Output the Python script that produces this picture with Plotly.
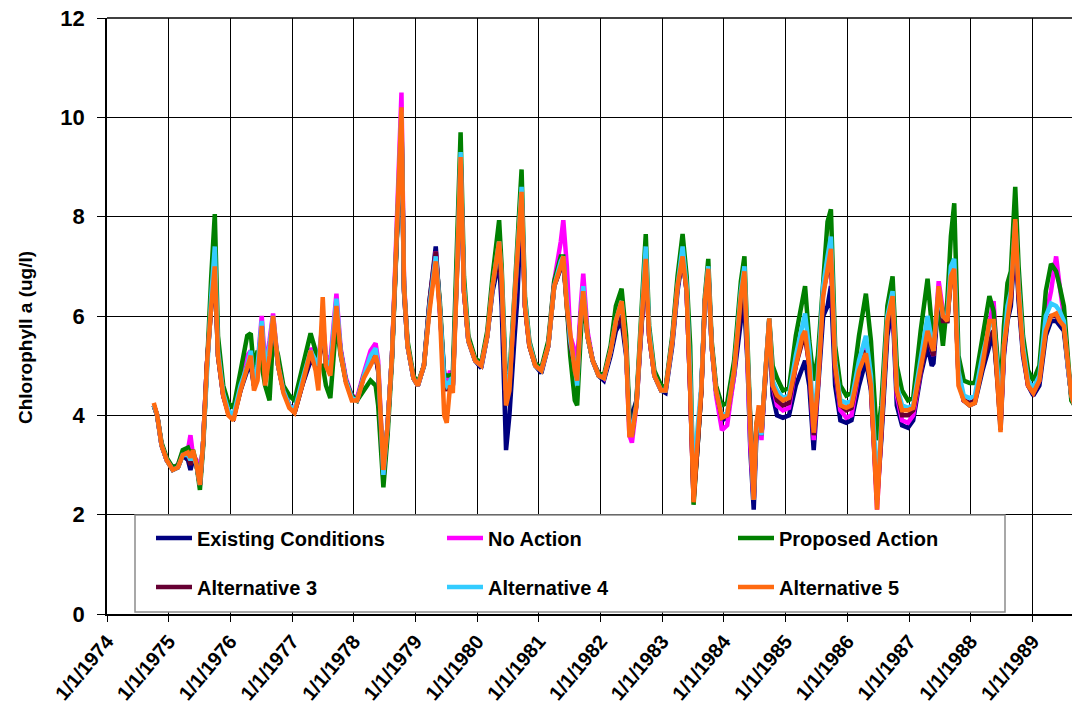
import plotly.graph_objects as go

dates = [
"1974-10-05","1974-10-25","1974-11-20","1974-12-20","1975-01-25","1975-02-25","1975-03-25","1975-04-25","1975-05-10","1975-05-25",
"1975-06-15","1975-07-05","1975-07-25","1975-08-15","1975-09-10","1975-10-01","1975-10-20","1975-11-20","1975-12-20","1976-01-20",
"1976-03-01","1976-04-10","1976-05-01","1976-05-20","1976-06-10","1976-07-05","1976-07-25","1976-08-20","1976-09-10","1976-10-10",
"1976-11-10","1976-12-15","1977-01-15","1977-03-01","1977-04-20","1977-05-20","1977-06-05","1977-07-01","1977-07-20","1977-08-15",
"1977-09-20","1977-10-15","1977-11-15","1977-12-20","1978-01-20","1978-03-01","1978-04-10","1978-05-10","1978-05-25","1978-06-25",
"1978-07-20","1978-08-15","1978-09-10","1978-10-10","1978-10-25","1978-11-15","1978-12-20","1979-01-15","1979-02-20","1979-03-25",
"1979-05-01","1979-05-25","1979-06-20","1979-07-05","1979-07-25","1979-08-10","1979-09-05","1979-09-25","1979-10-15","1979-11-10",
"1979-12-20","1980-01-25","1980-03-01","1980-04-01","1980-05-10","1980-05-25","1980-06-20","1980-07-10","1980-08-10","1980-08-25",
"1980-09-20","1980-10-10","1980-11-05","1980-12-10","1981-01-15","1981-02-25","1981-04-01","1981-05-10","1981-05-25","1981-06-15",
"1981-07-05","1981-08-01","1981-08-15","1981-09-05","1981-09-20","1981-10-15","1981-11-15","1981-12-20","1982-01-20","1982-03-01",
"1982-04-01","1982-05-05","1982-06-01","1982-06-20","1982-07-05","1982-08-01","1982-08-25","1982-09-25","1982-10-15","1982-11-15",
"1982-12-25","1983-01-20","1983-03-01","1983-04-01","1983-05-01","1983-05-25","1983-06-15","1983-07-05","1983-07-25","1983-08-20",
"1983-09-10","1983-09-30","1983-10-20","1983-11-15","1983-12-20","1984-01-20","1984-03-01","1984-04-10","1984-05-01","1984-05-20",
"1984-06-05","1984-06-25","1984-07-10","1984-07-25","1984-08-10","1984-09-01","1984-09-25","1984-10-15","1984-11-10","1984-12-15",
"1985-01-20","1985-03-01","1985-04-10","1985-04-25","1985-05-20","1985-06-15","1985-07-10","1985-08-10","1985-09-05","1985-09-25",
"1985-10-20","1985-11-20","1985-12-25","1986-01-25","1986-03-10","1986-04-20","1986-05-20","1986-06-25","1986-07-20","1986-08-25",
"1986-09-25","1986-10-20","1986-11-20","1986-12-25","1987-01-25","1987-03-10","1987-04-20","1987-05-15","1987-05-25","1987-06-25",
"1987-07-20","1987-08-15","1987-09-05","1987-09-25","1987-10-20","1987-11-20","1987-12-25","1988-01-25","1988-03-10","1988-04-20",
"1988-05-15","1988-06-10","1988-06-25","1988-07-15","1988-08-05","1988-08-25","1988-09-20","1988-10-10","1988-11-05","1988-12-05",
"1989-01-05","1989-02-10","1989-03-20","1989-04-20","1989-05-20","1989-06-10","1989-07-05","1989-07-28","1989-08-18","1989-09-05",
]

existing_conditions = [
4.2,4.0,3.4,3.1,2.9,2.95,3.2,3.1,2.9,3.1,
3.0,2.6,3.5,5.0,6.2,7.0,5.2,4.4,4.05,3.95,
4.5,4.9,5.0,4.6,4.9,5.8,4.8,5.3,5.9,5.0,
4.5,4.2,4.05,4.6,5.1,5.0,5.0,5.7,5.1,5.0,
6.1,5.3,4.7,4.35,4.3,4.8,5.1,5.2,4.9,2.7,
3.8,5.2,7.4,9.8,6.5,5.4,4.75,4.6,5.0,6.3,
7.4,6.2,4.8,4.7,4.8,4.6,7.0,9.1,6.5,5.5,
5.1,4.95,5.6,6.5,7.1,6.2,3.3,4.0,5.6,6.3,
8.3,6.2,5.4,5.0,4.85,5.4,6.6,7.0,7.1,6.3,
5.5,5.0,4.9,6.0,6.5,5.6,5.1,4.8,4.7,5.2,
5.7,5.9,5.2,4.0,4.0,4.3,5.5,7.1,5.6,4.8,
4.5,4.45,5.4,6.5,7.2,6.5,4.5,2.4,3.2,4.5,
6.3,6.9,5.4,4.5,3.9,3.95,4.8,5.9,6.2,5.0,
3.3,2.1,3.5,4.0,3.6,4.8,5.9,4.4,4.0,3.95,
4.0,4.6,5.0,5.1,4.6,3.3,4.5,6.0,6.2,6.6,
4.6,3.9,3.85,3.9,4.6,5.1,4.5,2.3,3.5,5.6,
6.2,4.2,3.8,3.75,3.9,4.8,5.4,5.0,5.05,6.4,
5.9,5.9,6.8,7.0,4.8,4.3,4.2,4.25,4.9,5.4,
5.6,4.6,3.7,5.2,5.9,6.2,7.6,6.3,5.2,4.6,
4.4,4.6,5.6,5.9,5.9,5.8,5.7,5.0,4.4,4.2,
]

no_action = [
4.2,4.0,3.4,3.1,2.95,3.0,3.25,3.3,3.6,3.2,
3.1,2.6,3.5,5.0,6.3,7.1,5.3,4.4,4.05,3.95,
4.6,5.2,5.3,4.7,5.0,6.0,5.0,5.5,6.05,5.0,
4.5,4.2,4.1,4.7,5.35,5.2,5.1,5.9,5.2,5.1,
6.45,5.35,4.75,4.4,4.35,4.85,5.3,5.45,5.1,2.8,
3.8,5.2,7.6,10.5,6.7,5.4,4.75,4.6,5.0,6.2,
7.3,6.2,4.8,4.6,4.9,4.6,7.0,9.2,6.5,5.5,
5.1,5.0,5.6,6.6,7.4,6.6,4.5,4.6,6.3,7.2,
8.5,6.2,5.45,5.05,4.9,5.4,6.7,7.5,7.93,7.0,
5.6,5.3,5.0,6.2,6.85,5.7,5.1,4.85,4.75,5.3,
5.9,6.3,5.3,3.6,3.45,4.2,5.6,7.2,5.6,4.8,
4.5,4.5,5.5,6.6,7.3,6.5,4.5,2.3,3.3,4.5,
6.3,7.0,5.4,4.4,3.7,3.8,4.8,6.4,6.9,5.2,
3.4,2.3,3.7,4.1,3.5,4.8,5.9,4.6,4.2,4.1,
4.15,5.0,5.6,5.6,5.0,3.5,4.6,6.5,7.0,7.2,
4.9,4.1,3.95,4.0,4.9,5.4,4.6,2.1,3.6,5.9,
6.3,4.4,3.9,3.85,4.0,4.9,5.7,5.3,5.2,6.7,
6.1,6.0,7.0,7.1,4.8,4.3,4.25,4.3,5.1,5.8,
6.3,4.7,3.8,5.3,6.1,6.4,7.9,6.5,5.3,4.6,
4.45,4.7,6.0,6.5,7.2,6.6,6.0,5.0,4.4,4.2,
]

proposed_action = [
4.2,4.0,3.45,3.15,2.95,3.0,3.3,3.35,3.2,3.3,
3.0,2.5,3.4,5.1,6.8,8.05,5.6,4.6,4.25,4.15,
4.9,5.6,5.65,4.9,5.3,5.0,4.6,4.3,5.6,5.2,
4.6,4.4,4.3,4.9,5.65,5.3,5.0,5.0,4.6,4.35,
5.9,5.2,4.7,4.4,4.3,4.5,4.7,4.6,4.2,2.55,
3.6,5.1,7.5,9.9,6.6,5.5,4.8,4.65,5.0,6.2,
7.2,6.3,4.8,4.8,4.8,4.85,7.5,9.7,6.8,5.6,
5.15,5.05,5.7,6.8,7.93,7.0,4.6,4.8,6.5,7.4,
8.95,6.4,5.5,5.05,4.95,5.5,6.7,7.2,7.2,6.2,
5.2,4.3,4.2,5.6,6.4,5.6,5.1,4.85,4.8,5.4,
6.2,6.55,5.6,4.0,3.6,4.3,5.7,7.65,5.8,4.9,
4.6,4.55,5.6,6.8,7.65,6.8,5.4,2.2,3.2,4.5,
6.4,7.15,5.5,4.6,4.2,4.25,5.1,6.7,7.2,5.3,
3.9,2.4,3.8,4.1,3.7,4.8,5.95,5.0,4.75,4.5,
4.55,5.6,6.4,6.6,5.5,4.7,5.2,6.8,7.9,8.15,
5.4,4.6,4.4,4.45,5.6,6.45,5.5,3.5,4.2,6.2,
6.8,5.0,4.5,4.3,4.35,5.7,6.75,5.8,5.5,6.2,
5.4,6.3,7.6,8.27,5.2,4.7,4.65,4.65,5.6,6.4,
6.1,5.0,4.4,5.8,6.66,6.9,8.6,7.0,5.6,4.9,
4.7,5.0,6.5,7.05,6.9,6.6,6.2,5.2,4.3,4.2,
]

alternative_3 = [
4.2,4.0,3.4,3.1,2.9,2.95,3.2,3.2,3.0,3.2,
3.0,2.6,3.5,5.0,6.2,7.0,5.2,4.4,4.05,3.95,
4.5,5.0,5.1,4.6,4.9,5.8,4.8,5.3,5.9,5.0,
4.5,4.2,4.05,4.6,5.2,5.0,4.9,5.8,5.0,5.0,
6.1,5.3,4.7,4.35,4.3,4.8,5.1,5.2,4.9,2.8,
3.8,5.2,7.5,9.9,6.5,5.4,4.75,4.6,5.0,6.3,
7.3,6.2,4.6,4.5,4.7,4.6,7.0,9.2,6.5,5.5,
5.1,5.0,5.6,6.6,7.2,6.6,4.5,4.6,6.3,7.2,
8.4,6.2,5.4,5.0,4.9,5.4,6.6,7.0,7.1,6.2,
5.4,5.0,4.7,6.0,6.5,5.6,5.1,4.8,4.75,5.3,
5.8,6.0,5.3,3.8,3.8,4.2,5.6,7.1,5.6,4.8,
4.5,4.5,5.5,6.6,7.2,6.5,4.5,2.3,3.2,4.5,
6.3,6.9,5.4,4.5,3.95,4.0,4.9,6.2,6.6,5.0,
3.6,2.3,3.7,4.1,3.6,4.8,5.9,4.6,4.3,4.2,
4.25,5.0,5.5,5.6,5.0,3.6,4.6,6.5,6.9,7.2,
4.9,4.2,4.1,4.15,4.9,5.3,4.6,2.3,3.6,5.8,
6.3,4.5,4.0,4.0,4.1,4.9,5.6,5.3,5.2,6.5,
5.9,5.9,6.8,7.0,4.8,4.3,4.25,4.3,5.0,5.6,
5.7,4.6,3.8,5.3,6.0,6.3,7.8,6.4,5.3,4.6,
4.45,4.7,5.8,6.0,6.0,5.9,5.8,5.0,4.4,4.2,
]

alternative_4 = [
4.2,4.0,3.4,3.1,2.9,2.95,3.2,3.2,3.1,3.2,
3.0,2.6,3.5,5.0,6.4,7.4,5.3,4.45,4.1,4.0,
4.6,5.0,5.3,4.6,5.0,5.9,4.9,5.4,6.0,5.0,
4.5,4.2,4.1,4.7,5.3,5.1,5.0,5.9,5.1,5.0,
6.35,5.3,4.7,4.35,4.3,4.8,5.2,5.35,5.0,2.8,
3.8,5.2,7.5,10.1,6.6,5.4,4.75,4.6,5.0,6.2,
7.2,6.2,4.7,4.6,4.7,4.6,7.1,9.3,6.6,5.5,
5.1,5.0,5.6,6.6,7.5,6.8,4.5,4.7,6.4,7.3,
8.6,6.3,5.45,5.0,4.9,5.4,6.6,7.1,7.2,6.3,
5.5,5.0,4.6,6.0,6.6,5.6,5.1,4.8,4.75,5.3,
5.9,6.3,5.3,3.8,3.7,4.2,5.6,7.4,5.7,4.8,
4.5,4.5,5.5,6.6,7.4,6.6,4.8,2.7,3.6,4.6,
6.3,7.0,5.4,4.5,4.0,4.05,4.9,6.5,7.0,5.1,
3.7,2.3,3.7,4.1,3.6,4.8,5.95,4.7,4.5,4.35,
4.4,5.2,5.9,6.05,5.3,3.8,4.8,6.6,7.2,7.6,
5.1,4.3,4.25,4.3,5.1,5.6,4.8,2.5,3.8,6.0,
6.5,4.6,4.2,4.15,4.2,5.1,6.0,5.5,5.3,6.5,
6.0,6.0,7.0,7.15,4.9,4.4,4.35,4.4,5.2,5.8,
5.9,4.8,3.9,5.4,6.2,6.5,7.9,6.6,5.4,4.7,
4.55,4.8,6.0,6.25,6.2,6.1,5.9,5.0,4.4,4.2,
]

alternative_5 = [
4.25,4.0,3.4,3.1,2.9,2.95,3.2,3.25,3.15,3.3,
3.0,2.6,3.5,5.0,6.2,7.0,5.2,4.4,4.0,3.9,
4.5,5.0,5.2,4.5,4.7,5.8,4.6,5.2,6.0,5.0,
4.45,4.15,4.05,4.6,5.3,4.9,4.5,6.38,5.0,4.8,
6.2,5.25,4.65,4.3,4.3,4.75,5.0,5.2,5.0,2.9,
3.8,5.2,7.5,10.2,6.6,5.4,4.75,4.6,5.0,6.1,
7.1,6.1,4.0,3.85,4.6,4.45,7.0,9.2,6.5,5.5,
5.1,5.0,5.6,6.6,7.5,6.8,4.2,4.5,6.4,7.3,
8.5,6.2,5.4,5.0,4.9,5.4,6.6,7.0,7.2,6.2,
5.6,4.9,4.7,6.0,6.5,5.6,5.1,4.8,4.75,5.3,
5.9,6.3,5.3,3.6,3.6,4.2,5.6,7.15,5.6,4.8,
4.5,4.5,5.5,6.6,7.2,6.5,4.5,2.25,3.3,4.5,
6.3,6.95,5.4,4.5,3.95,4.0,4.9,6.4,6.9,5.0,
3.7,2.3,3.8,4.2,3.65,4.8,5.95,4.6,4.4,4.3,
4.35,5.0,5.6,5.7,5.0,3.65,4.6,6.4,7.0,7.35,
5.0,4.2,4.15,4.2,4.9,5.25,4.6,2.1,3.7,5.9,
6.4,4.5,4.1,4.1,4.15,4.9,5.7,5.4,5.3,6.6,
6.0,5.9,6.8,6.95,4.6,4.3,4.2,4.25,5.0,5.9,
5.9,4.5,3.66,5.4,5.9,6.4,7.95,6.5,5.3,4.6,
4.45,4.7,5.7,6.0,6.05,5.9,5.8,5.0,4.4,4.2,
]

series_names = ["Existing Conditions", "No Action", "Proposed Action",
                "Alternative 3", "Alternative 4", "Alternative 5"]
series_values = [existing_conditions, no_action, proposed_action,
                 alternative_3, alternative_4, alternative_5]
series_colors = ["#000080", "#FF00FF", "#008000", "#660033", "#33CCFF", "#FF6A10"]
series_legend = ["legend", "legend", "legend", "legend2", "legend2", "legend2"]

tick_dates = ["%d-01-01" % y for y in range(1974, 1990)]
tick_labels = ["1/1/%d" % y for y in range(1974, 1990)]
y_ticks = [0, 2, 4, 6, 8, 10, 12]

FONT = "Liberation Sans"

fig = go.Figure()
for name, vals, col, lg in zip(series_names, series_values, series_colors, series_legend):
    fig.add_trace(go.Scatter(
        x=dates, y=vals, mode="lines", name=name,
        line=dict(color=col, width=4.5), legend=lg,
    ))

W, H = 1072, 712
PX_L, PX_R, PX_T, PX_B = 107, 1072, 18, 614   # plot area edges on screen
L = PX_L
R = W - PX_R
T = PX_T
B = H - PX_B
pw, ph = PX_R - PX_L, PX_B - PX_T

def px_x(p):
    return (p - PX_L) / pw

def px_y(p):
    return (PX_B - p) / ph

legend_common = dict(
    orientation="h", entrywidth=240, entrywidthmode="pixels",
    font=dict(family=FONT, size=20, color="black", weight="bold"),
    bgcolor="rgba(0,0,0,0)", borderwidth=0, itemwidth=36,
    xanchor="left", yanchor="middle", traceorder="normal",
)

fig.update_layout(
    width=W, height=H,
    margin=dict(l=L, r=R, t=T, b=B, pad=0, autoexpand=False),
    paper_bgcolor="white", plot_bgcolor="white",
    font=dict(family=FONT, color="black"),
    legend=dict(x=px_x(151), y=px_y(538), **legend_common),
    legend2=dict(x=px_x(151), y=px_y(587), **legend_common),
    xaxis=dict(
        type="date", range=["1974-01-01", "1989-08-22"], automargin=False,
        tickvals=tick_dates, ticktext=tick_labels, tickangle=-50,
        tickfont=dict(family=FONT, size=20, color="black", weight="bold"),
        showgrid=True, gridcolor="black", gridwidth=1.3,
        showline=True, linecolor="black", linewidth=1.5,
        ticks="outside", ticklen=6, tickcolor="black", zeroline=False,
        ticklabeloverflow="allow",
    ),
    yaxis=dict(
        range=[0, 12], tickvals=y_ticks, automargin=False,
        tickfont=dict(family=FONT, size=22, color="black", weight="bold"),
        ticklabelstandoff=8, ticklabeloverflow="allow",
        showgrid=True, gridcolor="black", gridwidth=1.3,
        showline=True, linecolor="black", linewidth=1.5,
        ticks="outside", ticklen=8, tickcolor="black", zeroline=False,
    ),
    shapes=[
        dict(type="line", xref="paper", yref="paper", x0=0, x1=1, y0=1, y1=1,
             line=dict(color="black", width=1.3), layer="below"),
        dict(type="rect", xref="paper", yref="paper",
             x0=px_x(135), x1=px_x(1005), y0=px_y(612), y1=px_y(515),
             fillcolor="white", line=dict(color="#8c8c8c", width=1.5), layer="above"),
    ],
    annotations=[dict(
        text="Chlorophyll a (ug/l)", xref="paper", yref="paper",
        x=px_x(25), y=px_y(338), textangle=-90, showarrow=False,
        xanchor="center", yanchor="middle",
        font=dict(family=FONT, size=19, color="black", weight="bold"),
    )],
)

# Remove the default page margin so the 1072x712 figure fills the window exactly.
fig.write_html("out.html", config={"displayModeBar": False},
               post_script="document.body.style.margin='0px';")
